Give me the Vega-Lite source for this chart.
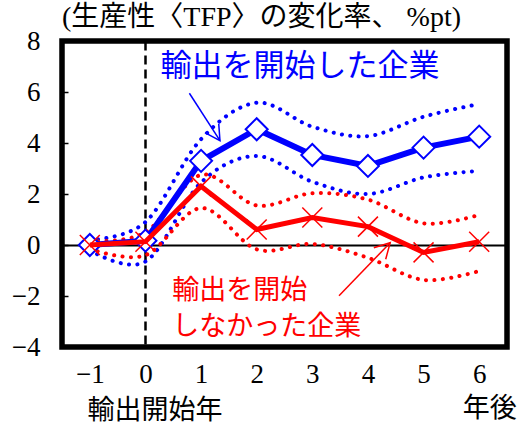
{
  "$schema": "https://vega.github.io/schema/vega-lite/v6.json",
  "width": 445,
  "height": 306,
  "autosize": {"type": "none"},
  "padding": {"left": 62, "top": 41, "right": 15, "bottom": 81},
  "background": "white",
  "config": {
    "view": {"stroke": "black", "strokeWidth": 5.5}
  },
  "datasets": {
    "series": [
      {"year": -1, "series": "exp", "value": 0},
      {"year": 0, "series": "exp", "value": 0.17},
      {"year": 1, "series": "exp", "value": 3.3},
      {"year": 2, "series": "exp", "value": 4.54},
      {"year": 3, "series": "exp", "value": 3.53},
      {"year": 4, "series": "exp", "value": 3.1},
      {"year": 5, "series": "exp", "value": 3.82},
      {"year": 6, "series": "exp", "value": 4.25},
      {"year": -1, "series": "exp_hi", "value": 0.2},
      {"year": 0, "series": "exp_hi", "value": 0.9},
      {"year": 1, "series": "exp_hi", "value": 4.15},
      {"year": 2, "series": "exp_hi", "value": 5.58},
      {"year": 3, "series": "exp_hi", "value": 4.64},
      {"year": 4, "series": "exp_hi", "value": 4.27},
      {"year": 5, "series": "exp_hi", "value": 5.03},
      {"year": 6, "series": "exp_hi", "value": 5.53},
      {"year": -1, "series": "exp_lo", "value": -0.2},
      {"year": 0, "series": "exp_lo", "value": -0.65},
      {"year": 1, "series": "exp_lo", "value": 2.45},
      {"year": 2, "series": "exp_lo", "value": 3.49},
      {"year": 3, "series": "exp_lo", "value": 2.48},
      {"year": 4, "series": "exp_lo", "value": 2.0},
      {"year": 5, "series": "exp_lo", "value": 2.65},
      {"year": 6, "series": "exp_lo", "value": 2.91},
      {"year": -1, "series": "non", "value": 0},
      {"year": 0, "series": "non", "value": 0.13},
      {"year": 1, "series": "non", "value": 2.3},
      {"year": 2, "series": "non", "value": 0.61},
      {"year": 3, "series": "non", "value": 1.08},
      {"year": 4, "series": "non", "value": 0.72},
      {"year": 5, "series": "non", "value": -0.29},
      {"year": 6, "series": "non", "value": 0.13},
      {"year": -1, "series": "non_hi", "value": 0.15},
      {"year": 0, "series": "non_hi", "value": 0.5},
      {"year": 1, "series": "non_hi", "value": 2.75},
      {"year": 2, "series": "non_hi", "value": 1.55},
      {"year": 3, "series": "non_hi", "value": 2.03},
      {"year": 4, "series": "non_hi", "value": 1.78},
      {"year": 5, "series": "non_hi", "value": 0.85},
      {"year": 6, "series": "non_hi", "value": 1.18},
      {"year": -1, "series": "non_lo", "value": -0.15},
      {"year": 0, "series": "non_lo", "value": -0.4},
      {"year": 1, "series": "non_lo", "value": 1.45},
      {"year": 2, "series": "non_lo", "value": -0.17},
      {"year": 3, "series": "non_lo", "value": 0.04},
      {"year": 4, "series": "non_lo", "value": -0.5},
      {"year": 5, "series": "non_lo", "value": -1.37},
      {"year": 6, "series": "non_lo", "value": -1.02}
    ]
  },
  "encoding": {
    "x": {
      "field": "year", "type": "quantitative",
      "scale": {"domain": [-1.5, 6.5], "nice": false, "zero": false},
      "axis": {
        "values": [-1, 0, 1, 2, 3, 4, 5, 6], "format": "d", "title": null,
        "ticks": false, "domain": false,
        "labelFont": "Liberation Serif", "labelFontSize": 27, "labelColor": "black", "labelPadding": 14,
        "grid": true, "gridColor": "black", "gridWidth": 2.5, "gridDash": [9, 5],
        "gridOpacity": {"condition": {"test": "datum.value === 0", "value": 1}, "value": 0}
      }
    },
    "y": {
      "field": "value", "type": "quantitative",
      "scale": {"domain": [-4, 8], "nice": false, "zero": false},
      "axis": {
        "values": [-4, -2, 0, 2, 4, 6, 8], "format": "d", "title": null,
        "ticks": true, "tickSize": -6, "tickColor": "black", "tickWidth": 1.5, "domain": false,
        "labelFont": "Liberation Serif", "labelFontSize": 27, "labelColor": "black", "labelPadding": 28,
        "grid": true, "gridColor": "black", "gridWidth": 2,
        "gridOpacity": {"condition": {"test": "datum.value === 0", "value": 1}, "value": 0}
      }
    }
  },
  "layer": [
    {
      "data": {"name": "series"},
      "transform": [{"filter": "datum.series === 'exp_hi' || datum.series === 'exp_lo'"}],
      "mark": {"type": "line", "interpolate": "cardinal", "color": "#0000ff", "strokeWidth": 4, "strokeDash": [0.1, 8.3], "strokeCap": "round"},
      "encoding": {"detail": {"field": "series"}}
    },
    {
      "data": {"name": "series"},
      "transform": [{"filter": "datum.series === 'non_hi' || datum.series === 'non_lo'"}],
      "mark": {"type": "line", "interpolate": "cardinal", "color": "#ff0000", "strokeWidth": 4, "strokeDash": [0.1, 8.3], "strokeCap": "round"},
      "encoding": {"detail": {"field": "series"}}
    },
    {
      "data": {"name": "series"},
      "transform": [{"filter": "datum.series === 'exp'"}],
      "mark": {"type": "line", "color": "#0000ff", "strokeWidth": 6}
    },
    {
      "data": {"name": "series"},
      "transform": [{"filter": "datum.series === 'exp'"}],
      "mark": {"type": "point", "shape": "diamond", "size": 484, "filled": true, "fill": "white", "stroke": "#0000ff", "strokeWidth": 2, "opacity": 1}
    },
    {
      "data": {"name": "series"},
      "transform": [{"filter": "datum.series === 'non'"}],
      "mark": {"type": "line", "color": "#ff0000", "strokeWidth": 5}
    },
    {
      "data": {"name": "series"},
      "transform": [{"filter": "datum.series === 'non'"}],
      "mark": {"type": "point", "shape": "M -1 -1 L 1 1 M -1 1 L 1 -1", "size": 400, "filled": false, "stroke": "#ff0000", "strokeWidth": 1.5, "opacity": 1}
    },
    {
      "data": {"values": [{"year": 0.79, "value": 5.95, "year2": 1.34, "value2": 4.09}]},
      "mark": {"type": "rule", "color": "#0000ff", "strokeWidth": 1.5},
      "encoding": {"x2": {"field": "year2"}, "y2": {"field": "value2"}}
    },
    {
      "data": {"values": [{"year": 1.34, "value": 4.09}]},
      "mark": {"type": "point", "shape": "M -0.55 -1 L 0 0 L 0.55 -1", "size": 900, "angle": 327, "filled": false, "stroke": "#0000ff", "strokeWidth": 1.5, "opacity": 1}
    },
    {
      "data": {"values": [{"year": 3.48, "value": -1.99, "year2": 4.4, "value2": 0.09}]},
      "mark": {"type": "rule", "color": "#ff0000", "strokeWidth": 1.5},
      "encoding": {"x2": {"field": "year2"}, "y2": {"field": "value2"}}
    },
    {
      "data": {"values": [{"year": 4.4, "value": 0.09}]},
      "mark": {"type": "point", "shape": "M -0.55 -1 L 0 0 L 0.55 -1", "size": 900, "angle": 224, "filled": false, "stroke": "#ff0000", "strokeWidth": 1.5, "opacity": 1}
    },
    {
      "data": {"values": [{"year": 2.78, "value": 6.99, "label": "輸出を開始した企業"}]},
      "mark": {"type": "text", "font": "Noto Sans CJK JP", "fontSize": 31, "fontWeight": "normal", "color": "#0000ff", "align": "center", "baseline": "middle"},
      "encoding": {"text": {"field": "label"}}
    },
    {
      "data": {"values": [
        {"year": 0.48, "value": -1.8, "label": "輸出を開始"},
        {"year": 0.48, "value": -3.2, "label": "しなかった企業"}
      ]},
      "mark": {"type": "text", "font": "Noto Sans CJK JP", "fontSize": 27, "fontWeight": "normal", "color": "#ff0000", "align": "left", "baseline": "middle"},
      "encoding": {"text": {"field": "label"}}
    },
    {
      "data": {"values": [
        {"year": 0.17, "value": -6.5, "label": "輸出開始年"},
        {"year": 6.19, "value": -6.45, "label": "年後"}
      ]},
      "mark": {"type": "text", "font": "Noto Sans CJK JP", "fontSize": 27, "fontWeight": "normal", "color": "black", "align": "center", "baseline": "middle", "clip": false},
      "encoding": {"text": {"field": "label"}}
    },
    {
      "data": {"values": [{"year": -1.5, "value": 8.9, "label": "(生産性〈TFP〉の変化率、 %pt)"}]},
      "mark": {"type": "text", "font": "Liberation Serif, Noto Sans CJK JP", "fontSize": 28, "fontWeight": "normal", "color": "black", "align": "left", "baseline": "middle", "clip": false},
      "encoding": {"text": {"field": "label"}}
    }
  ]
}
